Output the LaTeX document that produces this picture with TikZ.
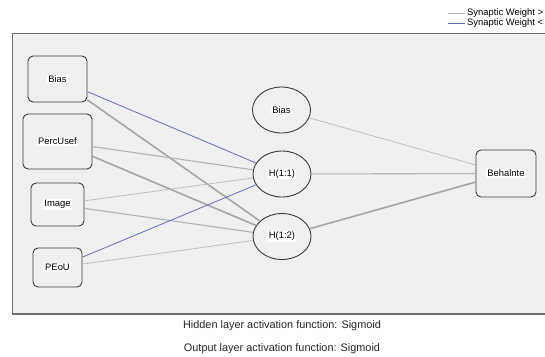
\documentclass[tikz,border=0pt]{standalone}
\usepackage{fontspec}
\setmainfont{Liberation Sans}
\usetikzlibrary{shapes.geometric}
\definecolor{panelbg}{HTML}{F0F0F0}
\definecolor{panelrule}{HTML}{6E6E6E}
\definecolor{nodeedge}{HTML}{3C3C3C}
\definecolor{negw}{HTML}{5B70C4}
\definecolor{posw}{HTML}{B4B4B4}
\newcommand\wlab[1]{{\setlength{\fboxsep}{1pt}\colorbox{white}{#1}}}
\tikzset{
  unit/.style={draw=nodeedge, line width=0.9pt, fill=panelbg, inner sep=0pt,
    font=\fontsize{9.4}{11}\selectfont},
  boxunit/.style={unit, rectangle, rounded corners=5pt},
  ovalunit/.style={unit, ellipse, minimum width=58pt, minimum height=46pt},
  wthin/.style={draw=posw!85, line width=0.8pt},
  wmid/.style={draw=posw, line width=1.1pt},
  wthick/.style={draw=posw!92!black, line width=1.6pt},
  wneg/.style={draw=negw, line width=0.8pt},
  caption/.style={font=\fontsize{10.9}{13}\selectfont, text=black!85},
  legtext/.style={font=\fontsize{9.4}{11}\selectfont, anchor=west, inner sep=0pt}
}
\begin{document}
\begin{tikzpicture}[x=1pt,y=-1pt]
  \useasboundingbox (0,0) rectangle (545,356);
  \clip (0,0) rectangle (545,356);
  \fill[white] (0,0) rectangle (545,356);

  % legend
  \coordinate (lgA) at (448,13);
  \coordinate (lgB) at (465,13);
  \coordinate (lgC) at (448,23);
  \coordinate (lgD) at (465,23);
  \draw[draw=posw, line width=0.8pt] (lgA) -- (lgB);
  \draw[draw=negw, line width=1pt] (lgC) -- (lgD);
  \node[legtext] (legpos) at (467,13) {Synaptic Weight > 0};
  \node[legtext] (legneg) at (467,23) {Synaptic Weight < 0};

  % network panel
  \fill[panelbg] (12,33) rectangle (560,314);
  \draw[panelrule, line width=0.8pt] (560,33) -- (12,33) -- (12,314);
  \draw[panelrule, line width=1.6pt] (12,314) -- (560,314);

  % input layer
  \node[boxunit, minimum width=59pt, minimum height=46pt] (inBias) at (57.5,79) {\wlab{Bias}};
  \node[boxunit, minimum width=69pt, minimum height=55pt] (inPerc) at (57.5,141.5) {\wlab{PercUsef}};
  \node[boxunit, minimum width=53pt, minimum height=43pt] (inImg) at (57.5,204.5) {\wlab{Image}};
  \node[boxunit, minimum width=49pt, minimum height=39pt] (inPeou) at (57.5,267.5) {\wlab{PEoU}};

  % hidden layer
  \node[ovalunit] (hBias) at (281.5,110) {\wlab{Bias}};
  \node[ovalunit] (h11) at (282,174) {\wlab{H(1:1)}};
  \node[ovalunit] (h12) at (282,236.5) {\wlab{H(1:2)}};

  % output layer
  \node[boxunit, minimum width=60pt, minimum height=47pt] (out) at (506,173.5) {\wlab{Behalnte}};

  % input -> hidden weights
  \draw[wneg] (inBias) -- (h11);
  \draw[wthick] (inBias) -- (h12);
  \draw[wmid] (inPerc) -- (h11);
  \draw[wthick] (inPerc) -- (h12);
  \draw[wthin] (inImg) -- (h11);
  \draw[wmid] (inImg) -- (h12);
  \draw[wneg] (inPeou) -- (h11);
  \draw[wthin] (inPeou) -- (h12);

  % hidden -> output weights
  \draw[wthin] (hBias) -- (out);
  \draw[wmid] (h11) -- (out);
  \draw[wthick] (h12) -- (out);

  % activation notes
  \node[caption] (actH) at (282,326) {Hidden layer activation function: Sigmoid};
  \node[caption] (actO) at (282,349) {Output layer activation function: Sigmoid};
\end{tikzpicture}
\end{document}
